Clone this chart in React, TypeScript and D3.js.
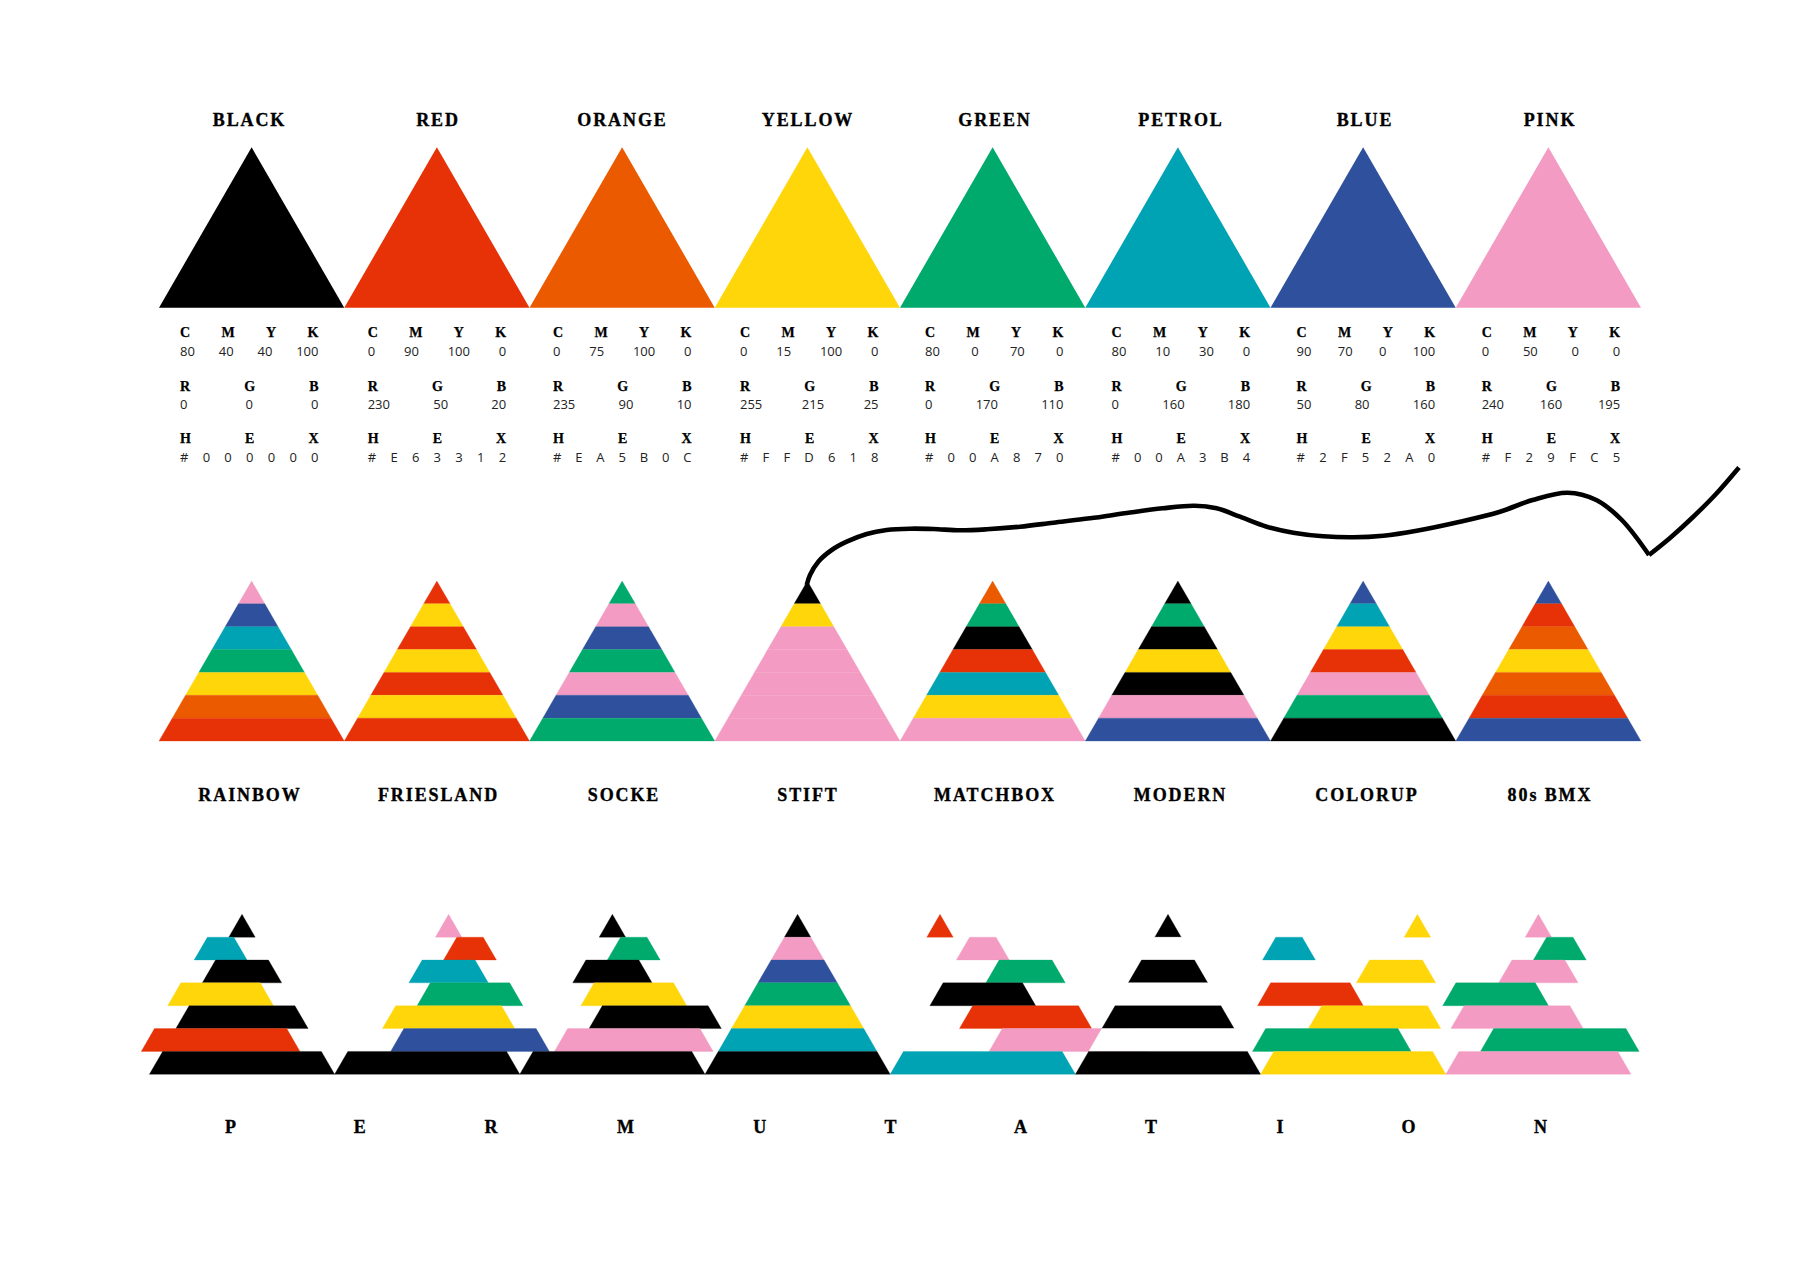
import React from "react";
import * as d3 from "d3";

const WIDTH = 1800;
const HEIGHT = 1273;

const black = "#000000", red = "#E63206", orange = "#EC5A00", yellow = "#FFD60A";
const green = "#00A96C", petrol = "#00A3B3", blue = "#2F509D", pink = "#F39BC3", white = "#FFFFFF";

const colorNames = ["BLACK", "RED", "ORANGE", "YELLOW", "GREEN", "PETROL", "BLUE", "PINK"];
const colorFills = [black, red, orange, yellow, green, petrol, blue, pink];
const cmykValues = ["80 40 40 100", "0 90 100 0", "0 75 100 0", "0 15 100 0", "80 0 70 0", "80 10 30 0", "90 70 0 100", "0 50 0 0"];
const rgbValues = ["0 0 0", "230 50 20", "235 90 10", "255 215 25", "0 170 110", "0 160 180", "50 80 160", "240 160 195"];
const hexValues = ["000000", "E63312", "EA5B0C", "FFD618", "00A870", "00A3B4", "2F52A0", "F29FC5"];

const paletteNames = ["RAINBOW", "FRIESLAND", "SOCKE", "STIFT", "MATCHBOX", "MODERN", "COLORUP", "80s BMX"];
const rainbow = [pink, blue, petrol, green, yellow, orange, red];
const friesland = [red, yellow, red, yellow, red, yellow, red];
const socke = [green, pink, blue, green, pink, blue, green];
const stift = [black, yellow, pink, pink, pink, pink, pink];
const matchbox = [orange, green, black, red, petrol, yellow, pink];
const modern = [black, green, black, yellow, black, pink, blue];
const colorup = [blue, petrol, yellow, red, pink, green, black];
const bmx = [blue, red, orange, yellow, orange, red, blue];
const palettes = [rainbow, friesland, socke, stift, matchbox, modern, colorup, bmx];

const permLetters = ["P", "E", "R", "M", "U", "T", "A", "T", "I", "O", "N"];
const permLetterCenters = [231.5, 360.8, 492, 626.4, 760.6, 891.5, 1021.5, 1152, 1281, 1409.5, 1541.5];
const permColors = [
  [black, petrol, black, yellow, black, red, black],
  [pink, red, petrol, green, yellow, blue, black],
  [black, green, black, yellow, black, pink, black],
  [black, pink, blue, green, yellow, petrol, black],
  [red, pink, green, black, red, pink, petrol],
  [black, white, black, white, black, white, black],
  [yellow, petrol, yellow, red, yellow, green, yellow],
  [pink, green, pink, green, pink, green, pink],
];
const permShifts = [
  [0, -1, 0, -1, 0, -1, 0],
  [1, 2, 1, 2, 1, 2, 0],
  [0, 1, 0, 1, 2, 1, 0],
  [0, 0, 0, 0, 0, 0, 0],
  [-2, 0, 2, 0, 2, 4, 0],
  [0, 0, 0, 0, 0, 0, 0],
  [3, -3, 2, -2, 1, -1, 0],
  [0, 1, 0, -2, -1, 1, 0],
];

const wireA: [number, number][] = [
  [806.7, 585], [810, 575], [818.3, 561.7], [831.7, 550], [846.7, 541.7], [866.7, 534], [886.7, 530],
  [910, 528.7], [933.3, 529], [960, 530.3], [986.7, 529.3], [1020, 526.7], [1053.3, 522.7], [1090, 518.3],
  [1130, 512.5], [1162.6, 508.3], [1194.5, 505.8], [1216.7, 508.3], [1240, 516.7], [1266.7, 526.7],
  [1293.3, 532.7], [1323.3, 536.3], [1353.3, 537.3], [1383.3, 535.7], [1416.7, 530.7], [1460, 521.7],
  [1500, 511.7], [1532.6, 500], [1567.6, 492.7], [1596.3, 500], [1621.8, 520], [1649, 555],
];
const wireB: [number, number][] = [[1649, 555], [1670, 538], [1692, 518], [1716, 494], [1739, 467.5]];

const titleCentersTop = [249.5, 438, 622.5, 808, 995, 1181, 1365, 1550];
const titleCentersMid = [250, 438.5, 624, 808, 995, 1180.5, 1367, 1550];
const tableLefts = [180, 367.7, 553, 740, 925, 1111.6, 1296.6, 1481.7];

const SERIF = "'Liberation Serif', serif";
const SANS = "'Open Sans', sans-serif";
const labelFont = `700 14px ${SERIF}`;
const valueFont = `400 13px ${SANS}`;

const ctx = document.createElement("canvas").getContext("2d")!;
function justified(words: string[], font: string, left: number, width: number) {
  ctx.font = font;
  const ws = words.map((w) => ctx.measureText(w).width);
  const gap = (width - d3.sum(ws)) / (words.length - 1);
  let x = left;
  return words.map((w, i) => {
    const p = { w, x };
    x += ws[i] + gap;
    return p;
  });
}

function Row({ words, font, left, y, family, weight, size, fill, stroke }: any) {
  return (
    <g>
      {justified(words, font, left, 138.5).map((p, i) => (
        <text key={i} x={p.x} y={y} fontFamily={family} fontWeight={weight} fontSize={size} fill={fill} stroke={stroke} strokeWidth={stroke ? 0.25 : 0}>{p.w}</text>
      ))}
    </g>
  );
}

const baseX = d3.scaleLinear().domain([0, 8]).range([159, 1641]);
const bottomX = d3.scaleLinear().domain([0, 8]).range([149.4, 1631]);
const halfWidth = d3.scaleLinear().domain([0, 7]).range([0, 92.6]);
const shiftX = d3.scaleLinear().domain([0, 1]).range([0, 21.4]);
const polygon = d3.line();
const curve = d3.line().curve(d3.curveCatmullRom.alpha(0.5));

function Pyramid({ cx, y0, y1, colors, shifts }: { cx: number; y0: number; y1: number; colors: string[]; shifts?: number[] }) {
  const y = d3.scaleLinear().domain([0, 7]).range([y0, y1]);
  return (
    <g>
      {colors.map((c, i) => {
        const s = cx + (shifts ? shiftX(shifts[i]) : 0);
        const pts: [number, number][] = [
          [s - halfWidth(i), y(i)], [s + halfWidth(i), y(i)],
          [s + halfWidth(i + 1), y(i + 1)], [s - halfWidth(i + 1), y(i + 1)],
        ];
        return <path key={i} d={polygon(pts)! + "Z"} fill={c} stroke={c} strokeWidth={0.3} />;
      })}
    </g>
  );
}

const titleProps = { fontFamily: SERIF, fontWeight: 700, fontSize: 18, letterSpacing: 1.9, textAnchor: "middle" as const, fill: "#000", stroke: "#000", strokeWidth: 0.35 };

export default function App() {
  return (
    <svg width={WIDTH} height={HEIGHT} viewBox={`0 0 ${WIDTH} ${HEIGHT}`} style={{ position: "absolute", left: 0, top: 0, background: "#fff" }}>
      {colorNames.map((name, i) => {
        const x0 = baseX(i), x1 = baseX(i + 1);
        const tri: [number, number][] = [[x0, 307.7], [(x0 + x1) / 2, 147.3], [x1, 307.7]];
        const l = tableLefts[i];
        const lab = { font: labelFont, left: l, family: SERIF, weight: 700, size: 14, fill: "#000", stroke: "#000" };
        const val = { font: valueFont, left: l, family: SANS, weight: 400, size: 13, fill: "#222" };
        return (
          <g key={name}>
            <text x={titleCentersTop[i]} y={125.7} {...titleProps}>{name}</text>
            <path d={polygon(tri)! + "Z"} fill={colorFills[i]} />
            <Row words={["C", "M", "Y", "K"]} y={337.3} {...lab} />
            <Row words={cmykValues[i].split(" ")} y={356} {...val} />
            <Row words={["R", "G", "B"]} y={390.7} {...lab} />
            <Row words={rgbValues[i].split(" ")} y={409.3} {...val} />
            <Row words={["H", "E", "X"]} y={443} {...lab} />
            <Row words={["#", ...hexValues[i].split("")]} y={461.7} {...val} />
          </g>
        );
      })}

      {palettes.map((colors, i) => (
        <Pyramid key={i} cx={(baseX(i) + baseX(i + 1)) / 2} y0={581} y1={741} colors={colors} />
      ))}
      <path d={curve(wireA)!} fill="none" stroke="#000" strokeWidth={4.6} />
      <path d={curve(wireB)!} fill="none" stroke="#000" strokeWidth={4.6} />
      {paletteNames.map((name, i) => (
        <text key={name} x={titleCentersMid[i]} y={800.7} {...titleProps}>{name}</text>
      ))}

      {permColors.map((colors, i) => (
        <Pyramid key={i} cx={(bottomX(i) + bottomX(i + 1)) / 2} y0={914.3} y1={1074.3} colors={colors} shifts={permShifts[i]} />
      ))}
      {permLetters.map((ch, i) => (
        <text key={i} x={permLetterCenters[i]} y={1133.3} {...titleProps}>{ch}</text>
      ))}
    </svg>
  );
}
